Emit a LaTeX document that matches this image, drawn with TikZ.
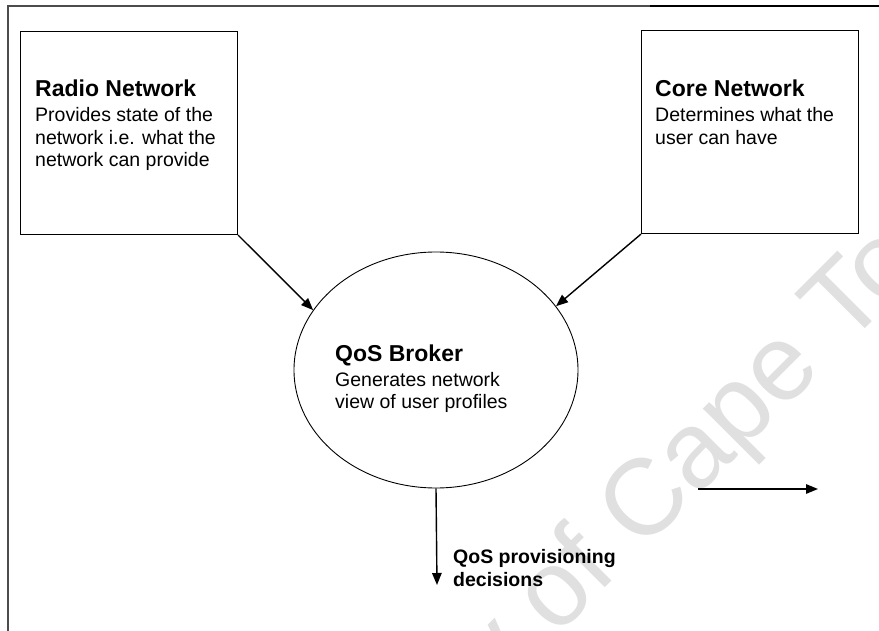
\documentclass[tikz,border=0pt]{standalone}
\usepackage{fontspec}
\setmainfont{Liberation Sans}
\usetikzlibrary{arrows.meta,shapes.geometric}

\begin{document}
\begin{tikzpicture}[x=1pt,y=-1pt,
  box/.style={draw, line width=1.1pt, inner sep=0pt, anchor=north west},
  titletext/.style={anchor=base west, inner sep=0pt, font=\fontsize{23}{26}\selectfont\bfseries},
  bodytext/.style={anchor=base west, inner sep=0pt, font=\fontsize{19.5}{22.5}\selectfont},
  labeltext/.style={anchor=base west, inner sep=0pt, font=\fontsize{19.5}{22.5}\selectfont\bfseries},
  flow/.style={line width=1.4pt, -{Triangle[length=12pt,width=9.5pt]}},
]
\useasboundingbox (0,0) rectangle (879,631);

% faint background watermark
\begin{scope}
\clip (0,0) rectangle (879,631);
\node[rotate=45, text=black!12, font=\fontsize{108}{108}\selectfont, inner sep=0pt] (wm) at (592,562) {University of Cape Town};
\end{scope}

% page frame
\draw[line width=2pt, black!70] (8,631) -- (8,6) -- (650,6);
\draw[line width=1.5pt] (650,6) -- (879,6);

% the two network boxes
\node[box, minimum width=217pt, minimum height=203pt] (radio) at (20,31) {};
\node[box, minimum width=217pt, minimum height=203pt] (core) at (641,30) {};

\node[titletext] (radioT) at (35,97) {Radio Network};
\node[bodytext] (radioL1) at (35,122) {Provides state of the};
\node[bodytext] (radioL2) at (35,145) {network i.e. what the};
\node[bodytext] (radioL3) at (35,167) {network can provide};

\node[titletext] (coreT) at (655,97) {Core Network};
\node[bodytext] (coreL1) at (655,122) {Determines what the};
\node[bodytext] (coreL2) at (655,145) {user can have};

% the broker
\node[draw, ellipse, minimum width=284pt, minimum height=236pt, line width=0.9pt, inner sep=0pt] (broker) at (436,370) {};
\node[titletext] (brokerT) at (335,362) {QoS Broker};
\node[bodytext] (brokerL1) at (335,386) {Generates network};
\node[bodytext] (brokerL2) at (335,408) {view of user profiles};

% connectors
\draw[flow] (radio.south east) -- (broker.154);
\draw[flow] (core.south west) -- (broker.28);

\coordinate (decEnd) at (437,585);
\draw[flow] (broker.south) -- (decEnd);
\node[labeltext] (decL1) at (453,563) {QoS provisioning};
\node[labeltext] (decL2) at (453,586) {decisions};

\coordinate (outA) at (698,489);
\coordinate (outB) at (818,489);
\draw[flow] (outA) -- (outB);
\end{tikzpicture}
\end{document}
